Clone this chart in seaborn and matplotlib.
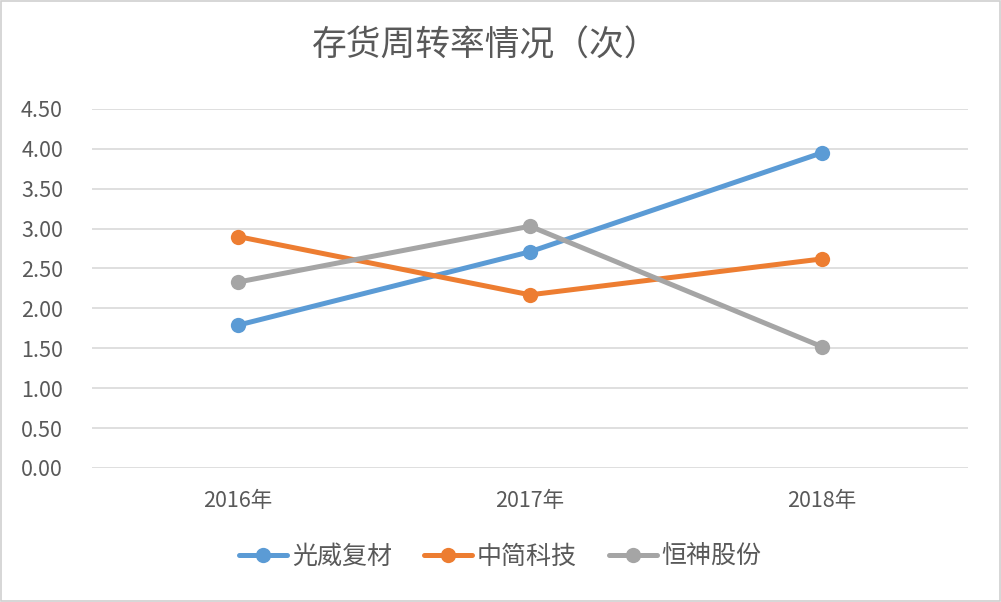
import matplotlib
matplotlib.use("Agg")
import matplotlib.pyplot as plt
import pandas as pd
import seaborn as sns

years = ["2016年", "2017年", "2018年"]
guangwei = [1.79, 2.71, 3.95]
zhongjian = [2.90, 2.17, 2.62]
hengshen = [2.33, 3.03, 1.52]
series_names = ["光威复材", "中简科技", "恒神股份"]
colors = ["#5B9BD5", "#ED7D31", "#A5A5A5"]

df = pd.DataFrame({
    "year": years * 3,
    "value": guangwei + zhongjian + hengshen,
    "name": [n for n in series_names for _ in years],
})

sns.set_style("white")
plt.rcParams["font.family"] = ["Noto Sans CJK SC", "DejaVu Sans"]

fig = plt.figure(figsize=(10.01, 6.02), dpi=100)
ax = fig.add_axes([0.092, 0.2226, 0.875, 0.5965])

sns.lineplot(data=df, x="year", y="value", hue="name", palette=colors,
             marker="o", markersize=11, markeredgewidth=0, linewidth=3.6,
             sort=False, ax=ax)

ax.set_xlim(-0.5, 2.5)
ax.set_ylim(0, 4.5)
ax.set_yticks([i * 0.5 for i in range(10)])
ax.set_yticklabels([f"{i * 0.5:.2f}" for i in range(10)])
ax.grid(axis="y", color="#D9D9D9", linewidth=1.2)
ax.set_axisbelow(True)
for s in ax.spines.values():
    s.set_visible(False)
ax.tick_params(axis="both", length=0, labelsize=15.5, colors="#595959")
ax.tick_params(axis="y", pad=21)
ax.tick_params(axis="x", pad=16)
ax.set_xlabel("")
ax.set_ylabel("")

fig.text(0.485, 0.923, "存货周转率情况（次）", ha="center", va="center",
         fontsize=25, color="#595959")

handles, labels = ax.get_legend_handles_labels()
ax.legend(handles, labels, loc="center", bbox_to_anchor=(0.5, 0.075),
          bbox_transform=fig.transFigure, ncol=3, frameon=False,
          fontsize=18, labelcolor="#595959", handlelength=1.9,
          columnspacing=1.3, handletextpad=0.2)

fig.patches.append(plt.Rectangle((0.001, 0.001), 0.998, 0.998,
                                 transform=fig.transFigure, fill=False,
                                 edgecolor="#D0D0D0", linewidth=1.2))

fig.savefig("out.png", dpi=100)
